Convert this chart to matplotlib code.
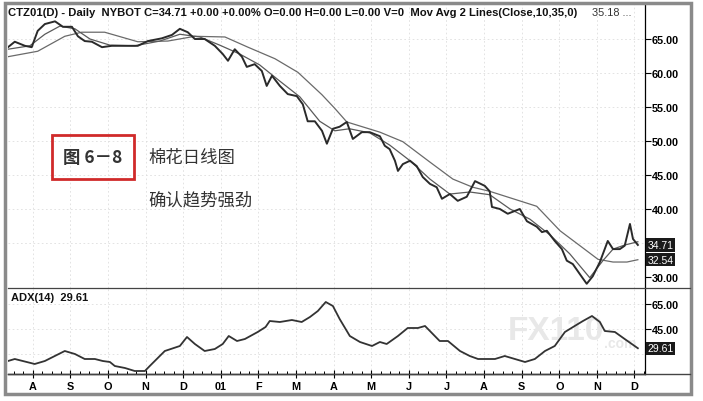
import numpy as np
import matplotlib.pyplot as plt
from matplotlib.patches import Rectangle
from matplotlib.lines import Line2D

plt.rcParams['font.family'] = ['Liberation Sans', 'DejaVu Sans']

# time axis in months (1 = Aug 2000 label ... 17 = Dec 2001 label)
month_pos = list(range(1, 18))
month_labels = ['A', 'S', 'O', 'N', 'D', '01', 'F', 'M', 'A', 'M', 'J', 'J', 'A', 'S', 'O', 'N', 'D']

# close prices
close_t = [0.34, 0.52, 0.79, 0.97, 1.13, 1.32, 1.59, 1.80, 2.04, 2.20, 2.38, 2.57, 2.84, 3.10,
           3.45, 3.79, 4.06, 4.43, 4.70, 4.91, 5.12, 5.31, 5.57, 5.84, 6.05, 6.19, 6.37, 6.56,
           6.69, 6.90, 7.09, 7.22, 7.36, 7.57, 7.78, 8.02, 8.18, 8.31, 8.50, 8.69, 8.82, 8.98,
           9.16, 9.35, 9.51, 9.75, 9.96, 10.23, 10.36, 10.49, 10.63, 10.71, 10.84, 11.03, 11.21,
           11.37, 11.56, 11.74, 11.88, 12.09, 12.30, 12.54, 12.76, 13.02, 13.15, 13.21, 13.42,
           13.63, 13.95, 14.14, 14.40, 14.54, 14.67, 14.88, 15.07, 15.20, 15.36, 15.55, 15.73,
           15.89, 16.08, 16.29, 16.43, 16.61, 16.74, 16.88, 16.96, 17.09]
close_v = [63.8, 64.6, 64.0, 63.8, 66.2, 67.2, 67.6, 66.8, 66.8, 65.4, 64.7, 64.6, 63.8, 64.0,
           64.0, 64.0, 64.7, 65.1, 65.6, 66.5, 66.0, 65.0, 65.0, 64.0, 62.8, 61.8, 63.5, 62.4,
           60.9, 61.3, 60.3, 58.1, 59.6, 58.1, 56.9, 56.6, 55.4, 52.9, 52.9, 51.5, 49.6, 51.8,
           52.1, 52.8, 50.3, 51.3, 51.3, 50.7, 49.3, 48.8, 47.1, 45.6, 46.6, 47.1, 46.3,
           44.7, 43.7, 43.2, 41.5, 42.2, 41.2, 41.8, 44.1, 43.4, 42.6, 40.3, 40.0,
           39.3, 40.0, 38.2, 37.4, 36.6, 36.8, 35.3, 34.1, 32.4, 31.9, 30.4, 29.0,
           30.1, 32.2, 35.3, 34.1, 34.1, 34.6, 37.8, 35.6, 34.71]

# 10-day moving average
ma10_t = [0.34, 0.92, 1.32, 1.72, 2.12, 2.52, 3.05, 3.71, 4.38, 4.91, 5.44, 5.97, 6.50, 7.03,
          7.57, 8.10, 8.63, 9.03, 9.42, 9.96, 10.49, 11.03, 11.56, 12.09, 12.62, 13.15, 13.69,
          14.22, 14.75, 15.28, 15.81, 16.16, 16.43, 16.74, 17.09]
ma10_v = [63.5, 64.0, 65.7, 66.9, 66.5, 65.0, 64.1, 64.0, 64.7, 65.7, 65.3, 64.1, 62.8, 61.2,
          58.8, 56.5, 52.9, 51.5, 51.8, 51.2, 49.4, 47.1, 44.4, 42.2, 42.5, 42.1, 40.0,
          38.5, 36.2, 33.4, 29.9, 32.4, 34.1, 34.7, 35.18]

# 35-day moving average
ma35_t = [0.34, 1.13, 1.85, 2.30, 2.91, 3.79, 4.59, 5.31, 6.11, 6.72, 7.44, 8.05, 8.69, 9.03,
          9.35, 10.23, 10.84, 11.56, 12.17, 12.70, 13.15, 14.40, 15.02, 15.55, 16.03, 16.43,
          16.80, 17.09]
ma35_v = [62.4, 63.2, 65.4, 66.0, 66.0, 64.6, 64.7, 65.4, 65.3, 63.8, 62.1, 60.1, 56.8, 54.8,
          52.8, 51.3, 49.9, 46.9, 44.4, 43.2, 42.6, 40.4, 36.8, 34.6, 32.6, 32.2, 32.2, 32.54]

# ADX(14)
adx_t = [0.34, 0.52, 1.05, 1.32, 1.85, 2.12, 2.38, 2.65, 2.86, 3.05, 3.18, 3.45, 3.71, 3.98,
         4.11, 4.51, 4.91, 5.10, 5.31, 5.57, 5.84, 6.05, 6.21, 6.43, 6.64, 6.98, 7.19, 7.30,
         7.57, 7.89, 8.15, 8.37, 8.58, 8.79, 8.98, 9.16, 9.43, 9.70, 10.02, 10.23, 10.41,
         10.71, 10.97, 11.24, 11.43, 11.56, 11.82, 12.04, 12.36, 12.62, 12.84, 13.29, 13.55,
         13.82, 14.09, 14.35, 14.62, 14.88, 15.15, 15.41, 15.63, 15.87, 16.08, 16.21, 16.48,
         16.74, 17.09]
adx_v = [19.4, 21.0, 17.0, 19.4, 27.4, 25.0, 21.0, 21.0, 19.4, 18.6, 15.4, 13.8, 11.4, 11.4,
         15.4, 27.4, 31.4, 38.6, 33.0, 27.4, 29.0, 33.0, 39.4, 35.4, 37.0, 42.6, 46.6, 51.4,
         50.6, 52.2, 50.6, 54.6, 59.4, 66.6, 63.4, 53.0, 39.4, 34.6, 31.4, 34.6, 33.0,
         39.4, 45.8, 45.8, 47.4, 43.4, 35.4, 35.4, 27.4, 23.4, 21.0, 21.0, 23.4,
         21.0, 18.6, 21.0, 27.4, 31.4, 42.6, 47.4, 51.4, 55.4, 50.6, 43.4, 42.6,
         37.0, 29.61]

price_ticks = [30, 40, 45, 50, 55, 60, 65]
adx_ticks = [45, 65]

W, H = 703, 402
fig = plt.figure(figsize=(W / 100, H / 100), dpi=100)

ax1 = fig.add_axes([8 / W, 1 - 289 / H, 637 / W, 284 / H])
ax2 = fig.add_axes([8 / W, 1 - 375 / H, 637 / W, 86 / H], sharex=ax1)

grid_kw = dict(color='#dedede', linestyle=(0, (2, 3)), linewidth=0.6)

# price panel
ax1.plot(ma35_t, ma35_v, color='#6a6a6a', lw=0.9, zorder=2)
ax1.plot(ma10_t, ma10_v, color='#5a5a5a', lw=0.9, zorder=2)
ax1.plot(close_t, close_v, color='#2a2a2a', lw=1.4, zorder=3)
ax1.set_xlim(0.34, 17.28)
ax1.set_ylim(28.38, 70.15)
ax1.yaxis.tick_right()
ax1.set_yticks(price_ticks)
ax1.set_yticklabels(['%.2f' % v for v in price_ticks])
ax1.tick_params(axis='y', direction='out', length=4, width=0.8, pad=1, labelsize=7.8)
for lab in ax1.get_yticklabels():
    lab.set_fontweight('bold')
ax1.tick_params(axis='x', bottom=False, labelbottom=False)
for v in [35, 40, 45, 50, 55, 60, 65]:
    ax1.axhline(v, **grid_kw, zorder=0)
for m in month_pos:
    ax1.axvline(m, **grid_kw, zorder=0)
for s in ['top', 'left', 'bottom']:
    ax1.spines[s].set_visible(False)
ax1.spines['right'].set_linewidth(0.9)

ytr = ax1.get_yaxis_transform()
ax1.text(1.004, 34.71, '34.71', transform=ytr, ha='left', va='center', color='white',
         fontsize=7.5, bbox=dict(boxstyle='square,pad=0.15', fc='#1a1a1a', ec='none'))
ax1.text(1.004, 32.54, '32.54', transform=ytr, ha='left', va='center', color='white',
         fontsize=7.5, bbox=dict(boxstyle='square,pad=0.15', fc='#1a1a1a', ec='none'))

# header line
ax1.text(0.0, 0.972, 'CTZ01(D) - Daily  NYBOT C=34.71 +0.00 +0.00% O=0.00 H=0.00 L=0.00 V=0  '
         'Mov Avg 2 Lines(Close,10,35,0)', transform=ax1.transAxes, ha='left', va='center',
         fontsize=8.1, fontweight='bold', color='#111111')
ax1.text(0.917, 0.972, '35.18 ...', transform=ax1.transAxes, ha='left', va='center',
         fontsize=7.8, color='#333333')

# chinese caption
fig.patches.append(Rectangle((52 / W, 1 - 180 / H), 82 / W, 44 / H, transform=fig.transFigure,
                             fill=False, ec='#d02a2a', lw=2.0))
fig.text(93 / W, 1 - 158 / H, '图 6－8', ha='center', va='center', fontsize=12.5,
         fontweight='bold', color='#333333', family=['Noto Sans CJK SC', 'DejaVu Sans'])
fig.text(148 / W, 1 - 158 / H, '棉花日线图', ha='left', va='center', fontsize=12.5,
         color='#333333', family=['Noto Sans CJK SC', 'DejaVu Sans'])
fig.text(148 / W, 1 - 200 / H, '确认趋势强劲', ha='left', va='center', fontsize=12.5,
         color='#333333', family=['Noto Sans CJK SC', 'DejaVu Sans'])

# ADX panel
ax2.plot(adx_t, adx_v, color='#333333', lw=1.3, zorder=3)
ax2.set_ylim(9.0, 77.8)
ax2.yaxis.tick_right()
ax2.set_yticks(adx_ticks)
ax2.set_yticklabels(['%.2f' % v for v in adx_ticks])
ax2.tick_params(axis='y', direction='out', length=4, width=0.8, pad=1, labelsize=7.8)
for lab in ax2.get_yticklabels():
    lab.set_fontweight('bold')
for v in [25, 45, 65]:
    ax2.axhline(v, **grid_kw, zorder=0)
for m in month_pos:
    ax2.axvline(m, **grid_kw, zorder=0)
for s in ['top', 'left']:
    ax2.spines[s].set_visible(False)
ax2.spines['right'].set_linewidth(0.9)
ax2.spines['bottom'].set_linewidth(1.0)
ax2.set_xticks(month_pos)
ax2.set_xticklabels(month_labels)
ax2.set_xticks(np.arange(0.5, 17.3, 0.25), minor=True)
ax2.tick_params(axis='x', which='major', direction='inout', length=6, width=0.8, pad=2,
                labelsize=7.8)
ax2.tick_params(axis='x', which='minor', direction='in', length=2.5, width=0.7)
for lab in ax2.get_xticklabels():
    lab.set_fontweight('bold')

ax2.text(0.005, 0.9, 'ADX(14)  29.61', transform=ax2.transAxes, ha='left', va='center',
         fontsize=8.0, fontweight='bold', color='#111111')
ax2.text(1.004, 29.61, '29.61', transform=ax2.get_yaxis_transform(), ha='left', va='center',
         color='white', fontsize=7.5, bbox=dict(boxstyle='square,pad=0.15', fc='#1a1a1a', ec='none'))

# watermark
ax2.text(0.785, 0.5, 'FX110', transform=ax2.transAxes, ha='left', va='center', fontsize=24,
         fontweight='bold', color='#e8e8e8', zorder=1)
ax2.text(0.935, 0.36, '.com', transform=ax2.transAxes, ha='left', va='center', fontsize=10,
         fontweight='bold', color='#e8e8e8', zorder=1)

# panel separators and outer frame
fig.lines.append(Line2D([8 / W, 690 / W], [1 - 289 / H, 1 - 289 / H], transform=fig.transFigure,
                        color='#444444', lw=0.9))
fig.lines.append(Line2D([8 / W, 690 / W], [1 - 375 / H, 1 - 375 / H], transform=fig.transFigure,
                        color='#444444', lw=1.0))
fig.patches.append(Rectangle((5 / W, 1 - 395 / H), 686 / W, 391 / H, transform=fig.transFigure,
                             fill=False, ec='#8a8a8a', lw=2.5))

fig.savefig('out.png', dpi=100)
